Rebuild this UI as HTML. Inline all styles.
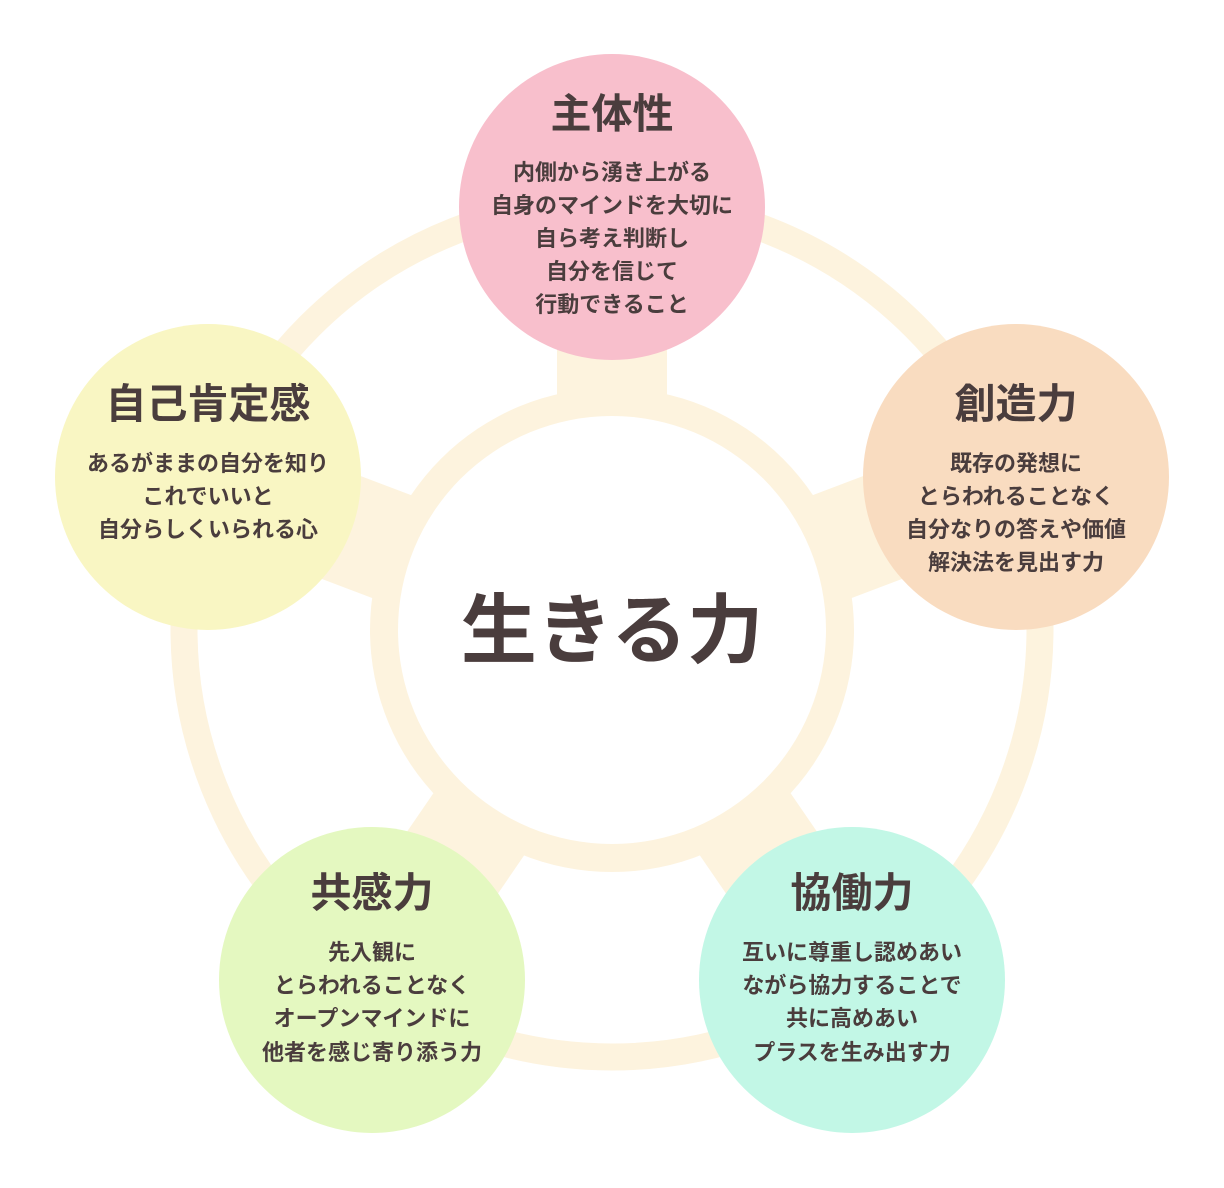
<!DOCTYPE html>
<html><head><meta charset="utf-8"><style>
html,body{margin:0;padding:0;background:#fff;}
svg{display:block;}
text{font-family:"Liberation Sans","Noto Sans CJK JP",sans-serif;font-weight:bold;fill:#4a3d3d;text-anchor:middle;}
.t{font-size:41px;}
.b{font-size:22px;}
</style></head><body>
<svg width="1224" height="1188" viewBox="0 0 1224 1188" xmlns="http://www.w3.org/2000/svg">
<circle cx="612" cy="629" r="428" fill="none" stroke="#fdf3de" stroke-width="27"/>
<g stroke="#fdf3de" stroke-width="110" stroke-linecap="butt">
<line x1="612" y1="630" x2="612" y2="207"/>
<line x1="612" y1="630" x2="1016" y2="477"/>
<line x1="612" y1="630" x2="208" y2="477"/>
<line x1="612" y1="630" x2="372" y2="980"/>
<line x1="612" y1="630" x2="852" y2="980"/>
</g>
<circle cx="612" cy="630" r="242" fill="#fdf3de"/>
<circle cx="612" cy="630" r="214" fill="#fff"/>
<circle cx="612" cy="207" r="153" fill="#f8bfcc"/>
<circle cx="1016" cy="477" r="153" fill="#f9dcc0"/>
<circle cx="208" cy="477" r="153" fill="#f9f6c3"/>
<circle cx="372" cy="980" r="153" fill="#e4f8c0"/>
<circle cx="852" cy="980" r="153" fill="#c2f7e6"/>
<text x="612" y="657" style="font-size:76px">生きる力</text>
<text class="t" x="612" y="128">主体性</text>
<text class="b" x="612" y="180">内側から湧き上がる</text>
<text class="b" x="612" y="213">自身のマインドを大切に</text>
<text class="b" x="612" y="246">自ら考え判断し</text>
<text class="b" x="612" y="279">自分を信じて</text>
<text class="b" x="612" y="312">行動できること</text>
<text class="t" x="1016" y="418">創造力</text>
<text class="b" x="1016" y="471">既存の発想に</text>
<text class="b" x="1016" y="504">とらわれることなく</text>
<text class="b" x="1016" y="537">自分なりの答えや価値</text>
<text class="b" x="1016" y="570">解決法を見出す力</text>
<text class="t" x="208" y="418">自己肯定感</text>
<text class="b" x="208" y="471">あるがままの自分を知り</text>
<text class="b" x="208" y="504">これでいいと</text>
<text class="b" x="208" y="537">自分らしくいられる心</text>
<text class="t" x="372" y="907">共感力</text>
<text class="b" x="372" y="960">先入観に</text>
<text class="b" x="372" y="993">とらわれることなく</text>
<text class="b" x="372" y="1026">オープンマインドに</text>
<text class="b" x="372" y="1060">他者を感じ寄り添う力</text>
<text class="t" x="852" y="907">協働力</text>
<text class="b" x="852" y="960">互いに尊重し認めあい</text>
<text class="b" x="852" y="993">ながら協力することで</text>
<text class="b" x="852" y="1026">共に高めあい</text>
<text class="b" x="852" y="1060">プラスを生み出す力</text>
</svg>
</body></html>
